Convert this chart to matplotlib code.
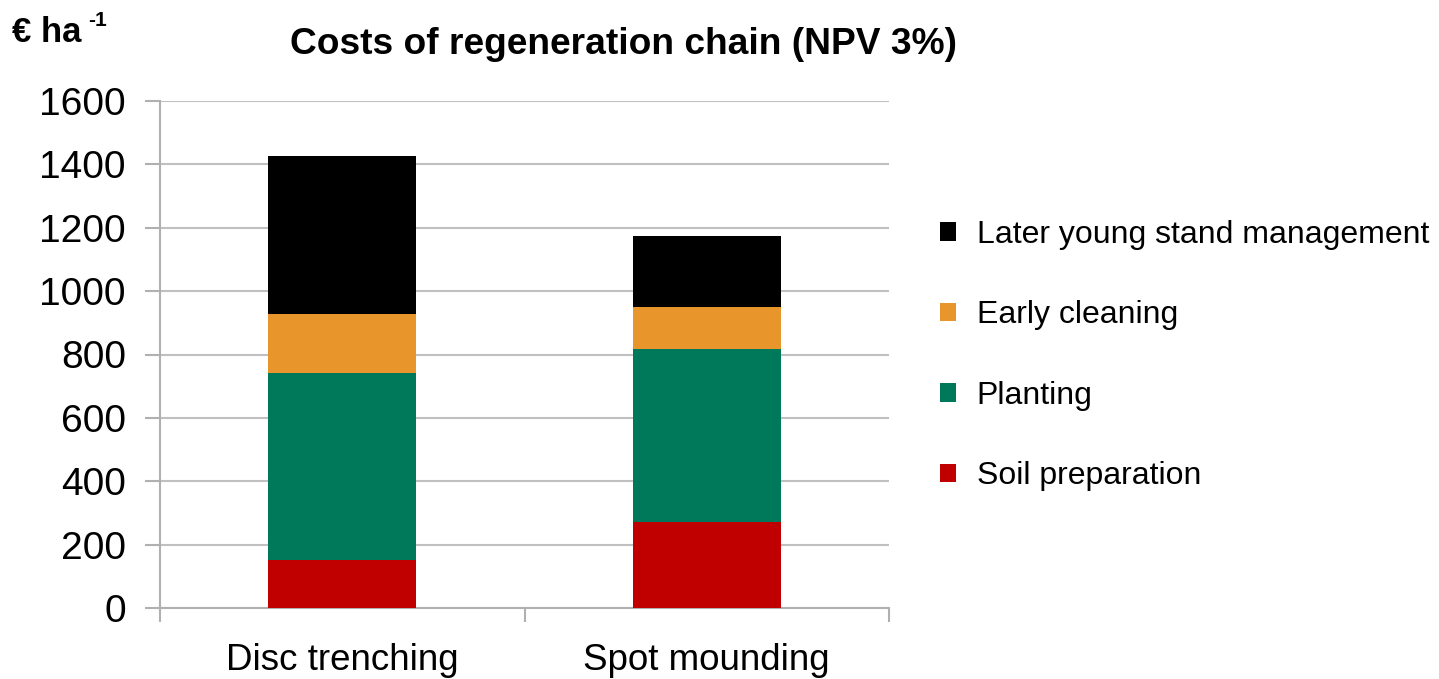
import matplotlib
matplotlib.use("Agg")
import matplotlib.pyplot as plt
import numpy as np

plt.rcParams["font.family"] = ["Liberation Sans", "DejaVu Sans"]

methods = ["Disc trenching", "Spot mounding"]
stages = ["Soil preparation", "Planting", "Early cleaning", "Later young stand management"]
soil_preparation = [151, 270]
planting = [591, 546]
early_cleaning = [187, 134]
later_management = [496, 225]
colors = ["#c00000", "#00785a", "#e8962c", "#000000"]

series = [soil_preparation, planting, early_cleaning, later_management]

fig = plt.figure(figsize=(14.39, 6.79), dpi=100)
ax = fig.add_axes([160 / 1439, 1 - 608 / 679, (889 - 160) / 1439, (608 - 101) / 679])

x = np.arange(len(methods))
bottom = np.zeros(len(methods))
handles = []
for vals, name, c in zip(series, stages, colors):
    b = ax.bar(x, vals, width=0.406, bottom=bottom, color=c, label=name, zorder=3)
    handles.append(b)
    bottom += np.array(vals)

ax.set_xlim(-0.5, 1.5)
ax.set_ylim(0, 1600)
ax.set_yticks(range(0, 1601, 200))
ax.grid(axis="y", color="#c0c0c0", linewidth=1.5, zorder=0)
ax.set_axisbelow(True)

for s in ["top", "right"]:
    ax.spines[s].set_visible(False)
ax.spines["left"].set_color("#b0b0b0")
ax.spines["left"].set_linewidth(1.5)
ax.spines["bottom"].set_color("#b0b0b0")
ax.spines["bottom"].set_linewidth(1.5)

ax.tick_params(axis="y", length=11, width=1.5, color="#b0b0b0", labelsize=28, pad=13.5)
ax.set_xticks(x)
ax.set_xticklabels(methods, fontsize=26.5)
ax.tick_params(axis="x", length=0, pad=25)
ax.set_xticks([-0.5, 0.5, 1.5], minor=True)
ax.tick_params(axis="x", which="minor", length=10, width=1.5, color="#b0b0b0")

fig.text(290 / 1439, 1 - 45 / 679, "Costs of regeneration chain (NPV 3%)",
         fontsize=26.7, fontweight="bold", va="center", ha="left")
fig.text(12 / 1439, 1 - 32 / 679, "€ ha", fontsize=25,
         fontweight="bold", va="center", ha="left")
fig.text(88 / 1439, 1 - 20 / 679, "-1", fontsize=15,
         fontweight="bold", va="center", ha="left")

leg = fig.legend(handles[::-1], stages[::-1], loc="upper left",
                 bbox_to_anchor=(911 / 1439, 1 - 191 / 679), frameon=False,
                 fontsize=23, handlelength=0.52, handleheight=0.52,
                 handletextpad=0.64, labelspacing=1.58)

fig.savefig("out.png", dpi=100)
